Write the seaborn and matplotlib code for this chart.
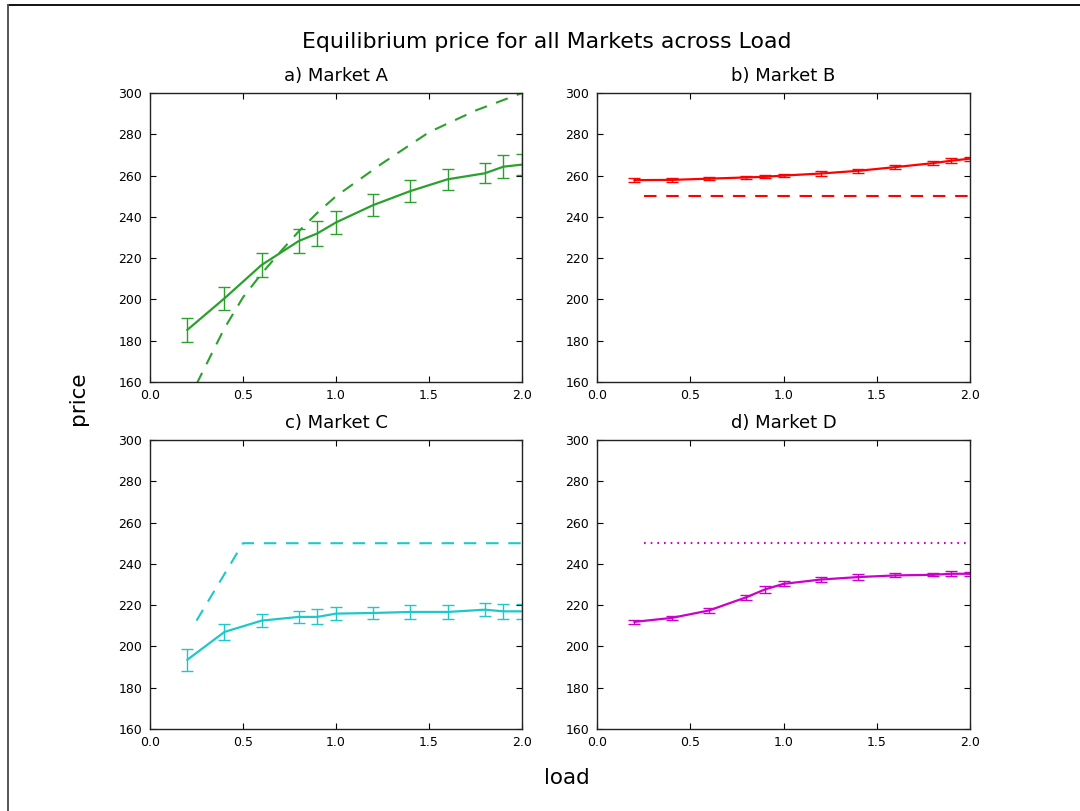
import numpy as np
import pandas as pd
import matplotlib
matplotlib.use("Agg")
import matplotlib.pyplot as plt
from matplotlib.lines import Line2D
import seaborn as sns

# Load levels at which each market was simulated
load = [0.2, 0.4, 0.6, 0.8, 0.9, 1.0, 1.2, 1.4, 1.6, 1.8, 1.9, 2.0]

# Mean equilibrium price and its spread per market
price_a = [185.2, 200.5, 216.7, 228.3, 232.0, 237.3, 245.7, 252.5, 258.2, 261.1, 264.3, 265.3]
err_a = [6.0, 5.5, 5.6, 5.7, 6.0, 5.7, 5.5, 5.3, 5.2, 4.8, 5.6, 5.0]
price_b = [257.8, 257.9, 258.5, 259.1, 259.4, 260.0, 261.0, 262.3, 264.1, 266.0, 267.2, 268.2]
err_b = [1.0, 0.8, 0.8, 0.7, 0.8, 0.8, 1.0, 0.9, 1.0, 1.0, 1.1, 1.0]
price_c = [193.5, 207.0, 212.5, 214.3, 214.3, 215.9, 216.2, 216.7, 216.7, 217.8, 217.0, 217.0]
err_c = [5.3, 3.7, 3.2, 2.8, 3.6, 3.2, 3.0, 3.2, 3.6, 3.2, 3.5, 3.5]
price_d = [211.9, 213.8, 217.4, 223.8, 227.6, 230.3, 232.4, 233.6, 234.4, 234.7, 235.2, 235.2]
err_d = [0.8, 0.8, 1.0, 1.3, 1.5, 1.2, 1.0, 1.3, 1.0, 0.8, 1.2, 1.0]

# Theoretical reference price curves
ref_load_a = [0.25, 0.3, 0.4, 0.5, 0.6, 0.7, 0.8, 0.9, 1.0, 1.25, 1.5, 1.75, 2.0]
ref_a = [159.0, 168.0, 186.0, 201.0, 212.5, 223.0, 233.0, 242.0, 250.0, 266.0, 281.0, 291.5, 300.0]
ref_load_b = [0.25, 2.0]
ref_b = [250.0, 250.0]
ref_load_c = [0.25, 0.5, 2.0]
ref_c = [212.5, 250.0, 250.0]
ref_load_d = [0.25, 2.0]
ref_d = [250.0, 250.0]

titles = ["a) Market A", "b) Market B", "c) Market C", "d) Market D"]
colors = ["#2ca02c", "#ff0000", "#1fc8c8", "#cc00cc"]
ref_styles = [(0, (9, 7)), (0, (9, 7)), (0, (9, 7)), (0, (1.2, 3.6))]

sns.set_style("white")
plt.rcParams.update({
    "font.family": ["DejaVu Sans"],
    "text.color": "black",
    "axes.labelcolor": "black",
    "xtick.color": "black",
    "ytick.color": "black",
    "lines.scale_dashes": False,
    "xtick.direction": "in",
    "ytick.direction": "in",
    "xtick.top": True,
    "ytick.right": True,
    "xtick.bottom": True,
    "ytick.left": True,
    "xtick.major.size": 4.5,
    "ytick.major.size": 4.5,
    "xtick.major.width": 0.8,
    "ytick.major.width": 0.8,
    "xtick.major.pad": 5,
    "ytick.major.pad": 5.5,
    "xtick.labelsize": 9,
    "ytick.labelsize": 9,
    "axes.edgecolor": "#222222",
    "axes.linewidth": 1.0,
})

fig = plt.figure(figsize=(10.8, 8.11), dpi=100)

W, H = 1080, 811
boxes = [(150, 93, 522, 382), (597, 93, 970, 382),
         (150, 440, 522, 729), (597, 440, 970, 729)]

series = [
    (price_a, err_a, ref_load_a, ref_a),
    (price_b, err_b, ref_load_b, ref_b),
    (price_c, err_c, ref_load_c, ref_c),
    (price_d, err_d, ref_load_d, ref_d),
]

for (x0, y0, x1, y1), title, color, ls, (price, err, rx, ry) in zip(
        boxes, titles, colors, ref_styles, series):
    ax = fig.add_axes([x0 / W, 1 - y1 / H, (x1 - x0) / W, (y1 - y0) / H])
    sns.lineplot(x=rx, y=ry, ax=ax, color=color, linewidth=1.5, linestyle=ls)
    sns.lineplot(x=load, y=price, ax=ax, color=color, linewidth=1.6)
    ax.errorbar(load, price, yerr=err, fmt="none", ecolor=color,
                elinewidth=1.0, capsize=4, capthick=1.0)
    ax.set_xlim(0, 2.0)
    ax.set_ylim(160, 300)
    ax.set_xticks([0.0, 0.5, 1.0, 1.5, 2.0])
    ax.set_yticks(np.arange(160, 301, 20))
    ax.set_title(title, fontsize=13, pad=8.5, color="black")
    ax.set_xlabel("")
    ax.set_ylabel("")
    for s in ax.spines.values():
        s.set_visible(True)

fig.suptitle("Equilibrium price for all Markets across Load", fontsize=15.8,
             x=0.506, y=0.948, va="center", color="black")
fig.text(78 / W, 1 - 398 / H, "price", rotation=90, fontsize=15.5,
         ha="center", va="center")
fig.text(567 / W, 1 - 778 / H, "load", fontsize=15.5, ha="center", va="center")

# frame around the figure
fig.add_artist(Line2D([8 / W, 1.0], [1 - 5 / H, 1 - 5 / H], transform=fig.transFigure,
                      color="#111111", linewidth=1.4))
fig.add_artist(Line2D([8 / W, 8 / W], [0.0, 1 - 5 / H], transform=fig.transFigure,
                      color="#555555", linewidth=1.4))

fig.savefig("out.png", dpi=100, facecolor="white")
